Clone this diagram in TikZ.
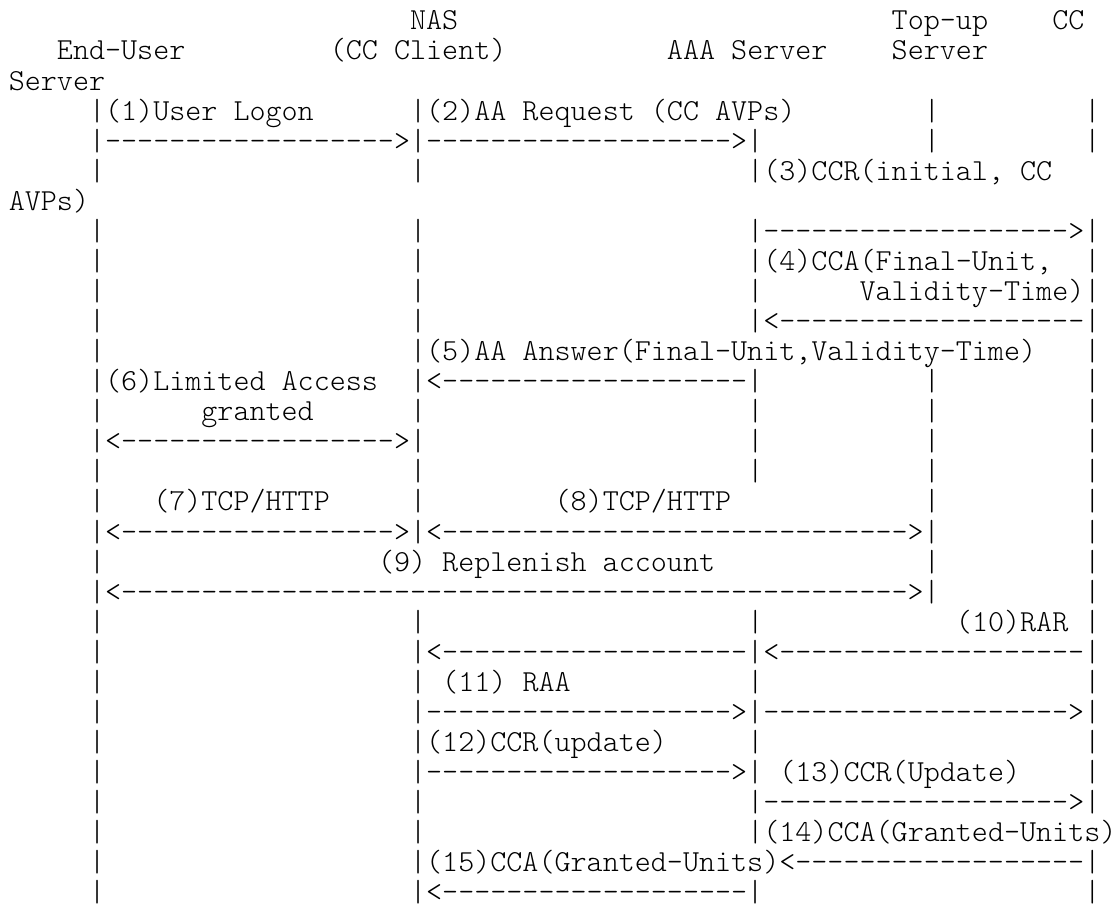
\documentclass[tikz,border=0pt]{standalone}
\usepackage{fontspec}
\setmonofont{lmmonolt10-regular}[Extension=.otf]
\newcommand\dsh[1]{\foreach\i in {1,...,#1}{-\kern0pt}}
\tikzset{txt/.style={anchor=base west, inner sep=0pt, outer sep=0pt, text=black,
  font=\ttfamily\frenchspacing\fontsize{22.93pt}{22.55pt}\selectfont}}
\begin{document}
\begin{tikzpicture}[x=12.04pt, y=-22.55pt]
\useasboundingbox[fill=white] (-6.6pt,22.4pt) rectangle (833.4pt,-660.85pt);
% row 0-2: headers
\node[txt] (nas)    at (25,0) {NAS};
\node[txt] (topup)  at (55,0) {Top-up};
\node[txt] (cc)     at (65,0) {CC};
\node[txt] (enduser) at (3,1) {End-User};
\node[txt] (ccclient) at (20,1) {(CC Client)};
\node[txt] (aaa)    at (41,1) {AAA Server};
\node[txt] (topup2) at (55,1) {Server};
\node[txt] (ccsrv)  at (0,2) {Server};
% row 3
\node[txt] (r3a) at (5,3) {|(1)User Logon};
\node[txt] (r3b) at (25,3) {|(2)AA Request (CC AVPs)};
\node[txt] (r3c) at (57,3) {|};
\node[txt] (r3d) at (67,3) {|};
% row 4
\node[txt] (r4a) at (5,4) {|\dsh{18}>|\dsh{19}>|};
\node[txt] (r4b) at (57,4) {|};
\node[txt] (r4c) at (67,4) {|};
% row 5-6
\node[txt] (r5a) at (5,5) {|};
\node[txt] (r5b) at (25,5) {|};
\node[txt] (r5c) at (46,5) {|(3)CCR(initial, CC};
\node[txt] (r6a) at (0,6) {AVPs)};
% row 7
\node[txt] (r7a) at (5,7) {|};
\node[txt] (r7b) at (25,7) {|};
\node[txt] (r7c) at (46,7) {|\dsh{19}>|};
% row 8
\node[txt] (r8a) at (5,8) {|};
\node[txt] (r8b) at (25,8) {|};
\node[txt] (r8c) at (46,8) {|(4)CCA(Final-Unit,};
\node[txt] (r8d) at (67,8) {|};
% row 9
\node[txt] (r9a) at (5,9) {|};
\node[txt] (r9b) at (25,9) {|};
\node[txt] (r9c) at (46,9) {|};
\node[txt] (r9d) at (53,9) {Validity-Time)|};
% row 10
\node[txt] (r10a) at (5,10) {|};
\node[txt] (r10b) at (25,10) {|};
\node[txt] (r10c) at (46,10) {|<\dsh{19}|};
% row 11
\node[txt] (r11a) at (5,11) {|};
\node[txt] (r11b) at (25,11) {|(5)AA Answer(Final-Unit,Validity-Time)};
\node[txt] (r11c) at (67,11) {|};
% row 12
\node[txt] (r12a) at (5,12) {|(6)Limited Access};
\node[txt] (r12b) at (25,12) {|<\dsh{19}|};
\node[txt] (r12c) at (57,12) {|};
\node[txt] (r12d) at (67,12) {|};
% row 13
\node[txt] (r13a) at (5,13) {|};
\node[txt] (r13b) at (12,13) {granted};
\node[txt] (r13c) at (25,13) {|};
\node[txt] (r13d) at (46,13) {|};
\node[txt] (r13e) at (57,13) {|};
\node[txt] (r13f) at (67,13) {|};
% row 14
\node[txt] (r14a) at (5,14) {|<\dsh{17}>|};
\node[txt] (r14b) at (46,14) {|};
\node[txt] (r14c) at (57,14) {|};
\node[txt] (r14d) at (67,14) {|};
% row 15
\node[txt] (r15a) at (5,15) {|};
\node[txt] (r15b) at (25,15) {|};
\node[txt] (r15c) at (46,15) {|};
\node[txt] (r15d) at (57,15) {|};
\node[txt] (r15e) at (67,15) {|};
% row 16
\node[txt] (r16a) at (5,16) {|};
\node[txt] (r16b) at (9,16) {(7)TCP/HTTP};
\node[txt] (r16c) at (25,16) {|};
\node[txt] (r16d) at (34,16) {(8)TCP/HTTP};
\node[txt] (r16e) at (57,16) {|};
\node[txt] (r16f) at (67,16) {|};
% row 17
\node[txt] (r17a) at (5,17) {|<\dsh{17}>|<\dsh{29}>|};
\node[txt] (r17b) at (67,17) {|};
% row 18
\node[txt] (r18a) at (5,18) {|};
\node[txt] (r18b) at (23,18) {(9) Replenish account};
\node[txt] (r18c) at (57,18) {|};
\node[txt] (r18d) at (67,18) {|};
% row 19
\node[txt] (r19a) at (5,19) {|<\dsh{49}>|};
\node[txt] (r19b) at (67,19) {|};
% row 20
\node[txt] (r20a) at (5,20) {|};
\node[txt] (r20b) at (25,20) {|};
\node[txt] (r20c) at (46,20) {|};
\node[txt] (r20d) at (59,20) {(10)RAR};
\node[txt] (r20e) at (67,20) {|};
% row 21
\node[txt] (r21a) at (5,21) {|};
\node[txt] (r21b) at (25,21) {|<\dsh{19}|<\dsh{19}|};
% row 22
\node[txt] (r22a) at (5,22) {|};
\node[txt] (r22b) at (25,22) {|};
\node[txt] (r22c) at (27,22) {(11) RAA};
\node[txt] (r22d) at (46,22) {|};
\node[txt] (r22e) at (67,22) {|};
% row 23
\node[txt] (r23a) at (5,23) {|};
\node[txt] (r23b) at (25,23) {|\dsh{19}>|\dsh{19}>|};
% row 24
\node[txt] (r24a) at (5,24) {|};
\node[txt] (r24b) at (25,24) {|(12)CCR(update)};
\node[txt] (r24c) at (46,24) {|};
\node[txt] (r24d) at (67,24) {|};
% row 25
\node[txt] (r25a) at (5,25) {|};
\node[txt] (r25b) at (25,25) {|\dsh{19}>|};
\node[txt] (r25c) at (48,25) {(13)CCR(Update)};
\node[txt] (r25d) at (67,25) {|};
% row 26
\node[txt] (r26a) at (5,26) {|};
\node[txt] (r26b) at (25,26) {|};
\node[txt] (r26c) at (46,26) {|\dsh{19}>|};
% row 27
\node[txt] (r27a) at (5,27) {|};
\node[txt] (r27b) at (25,27) {|};
\node[txt] (r27c) at (46,27) {|(14)CCA(Granted-Units)};
% row 28
\node[txt] (r28a) at (5,28) {|};
\node[txt] (r28b) at (25,28) {|(15)CCA(Granted-Units)<\dsh{18}|};
% row 29
\node[txt] (r29a) at (5,29) {|};
\node[txt] (r29b) at (25,29) {|<\dsh{19}|};
\node[txt] (r29c) at (67,29) {|};
\end{tikzpicture}
\end{document}
